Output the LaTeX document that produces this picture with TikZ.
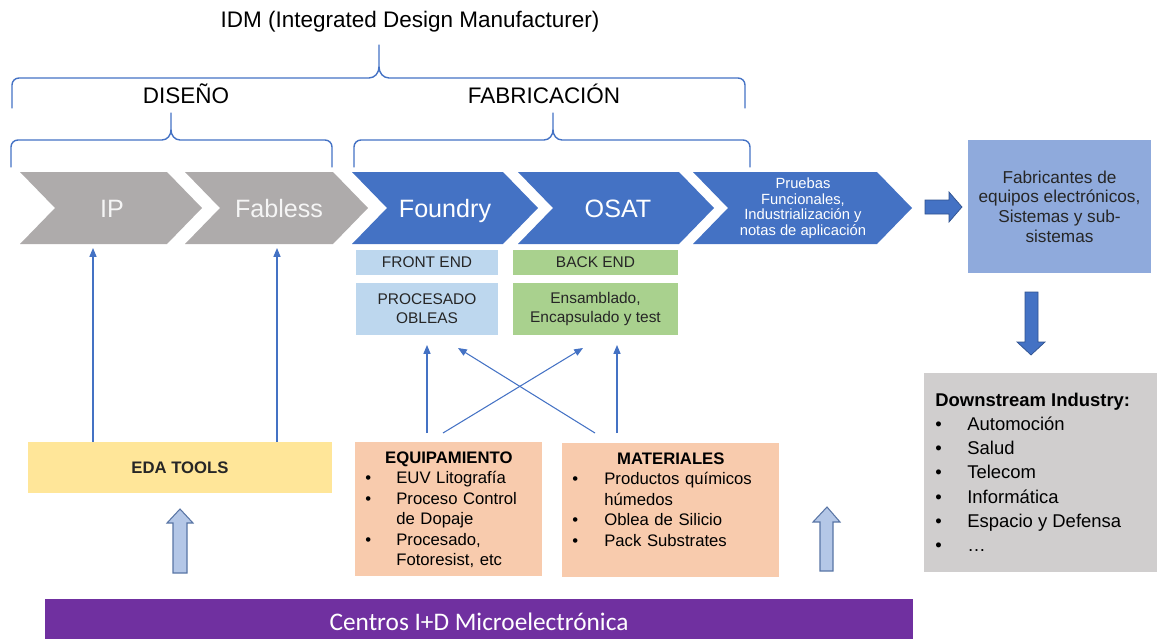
\documentclass[tikz,border=0pt]{standalone}
\usepackage{fontspec}
\setmainfont{Liberation Sans}
\newfontfamily\calibri{Carlito}
\usetikzlibrary{arrows.meta}

\definecolor{chevgray}{HTML}{AEABAB}
\definecolor{chevblue}{HTML}{4472C4}
\definecolor{arrowdark}{HTML}{2F528F}
\definecolor{frontblue}{HTML}{BDD7EE}
\definecolor{backgreen}{HTML}{A9D18E}
\definecolor{edayellow}{HTML}{FFE699}
\definecolor{peach}{HTML}{F8CBAD}
\definecolor{oembox}{HTML}{8FAADC}
\definecolor{downgray}{HTML}{D0CECE}
\definecolor{rdpurple}{HTML}{7030A0}
\definecolor{hollowfill}{HTML}{B4C7E7}

\newcommand{\fsz}[2]{\fontsize{#1}{#2}\selectfont}
\newcommand{\bul}[1]{\makebox[#1][l]{•}}
\newcommand{\chevshape}[3]{\fill[#3] (#1,172) -- (#2,172) -- ++(35,36) -- (#2,244) -- (#1,244) -- ++(35,-36) -- cycle;}

\begin{document}
\begin{tikzpicture}[x=0.02cm, y=-0.02cm,
	brace/.style={draw=chevblue, line width=0.8pt, line join=round, line cap=round},
	link/.style={draw=chevblue, line width=0.6pt, -{Triangle[length=5pt,width=4pt]}},
	cell/.style={inner sep=0pt, align=center, text=black!85},
	chevtext/.style={anchor=base, text=white, font=\fsz{14.3}{17}},
	blockarrow/.style={fill=chevblue, draw=arrowdark, line width=0.4pt},
	hollow/.style={fill=hollowfill, draw=arrowdark!80, line width=0.6pt}]
	\useasboundingbox (0,0) rectangle (1157,639);

	\node[anchor=base, font=\fsz{12.8}{15}] (idm) at (410,28) {IDM (Integrated Design Manufacturer)};
	\draw[brace] (12,108) -- (12,85) to[out=90,in=180] (19,78) -- (369,78) to[out=0,in=-90] (379,67) -- (379,45);
	\draw[brace] (745,108) -- (745,85) to[out=90,in=0] (738,78) -- (389,78) to[out=180,in=-90] (379,67);

	\node[anchor=base, font=\fsz{12.8}{15}] (diseno) at (186,103) {DISEÑO};
	\node[anchor=base, font=\fsz{12.8}{15}] (fabric) at (544,103) {FABRICACIÓN};
	\draw[brace] (11,167) -- (11,147) to[out=90,in=180] (18,140) -- (162,140) to[out=0,in=-90] (171,130) -- (171,113);
	\draw[brace] (332,167) -- (332,147) to[out=90,in=0] (325,140) -- (180,140) to[out=180,in=-90] (171,130);
	\draw[brace] (354,167) -- (354,147) to[out=90,in=180] (361,140) -- (544,140) to[out=0,in=-90] (553,130) -- (553,113);
	\draw[brace] (750,167) -- (750,147) to[out=90,in=0] (743,140) -- (562,140) to[out=180,in=-90] (553,130);

	\chevshape{20}{167}{chevgray}
	\chevshape{185}{333}{chevgray}
	\chevshape{352}{503}{chevblue}
	\chevshape{518}{679}{chevblue}
	\chevshape{693}{877}{chevblue}
	\node[chevtext, text=white!96!black] (ip) at (112,217) {IP};
	\node[chevtext, text=white!96!black] (fabless) at (279,217) {Fabless};
	\node[chevtext] (foundry) at (445,217) {Foundry};
	\node[chevtext] (osat) at (618,217) {OSAT};
	\node[align=center, text=white, font=\fsz{8.4}{8.9}] (pruebas) at (803,208) {Pruebas\\Funcionales,\\Industrialización y\\notas de aplicación};

	\filldraw[blockarrow] (925,200) -- (949,200) -- (949,192) -- (962,207) -- (949,222) -- (949,214) -- (925,214) -- cycle;
	\node[cell, fill=oembox, minimum width=3.66cm, minimum height=2.66cm, font=\fsz{9.8}{11.2}] (oem) at (1059.5,206.5) {Fabricantes de\\equipos electrónicos,\\Sistemas y sub-\\sistemas};
	\filldraw[blockarrow] (1025,292) -- (1038,292) -- (1038,342) -- (1045,342) -- (1031,355) -- (1017,342) -- (1025,342) -- cycle;
	\node[fill=downgray, minimum width=4.72cm, minimum height=3.98cm] (down) at (1042,472.5) {};
	\node[anchor=north west, inner sep=0pt, align=left, font=\fsz{10.5}{13.7}] (downlist) at (935,393) {{\bfseries Downstream Industry:}\\
		\bul{0.64cm}Automoción\\ \bul{0.64cm}Salud\\ \bul{0.64cm}Telecom\\ \bul{0.64cm}Informática\\
		\bul{0.64cm}Espacio y Defensa\\ \bul{0.64cm}…};

	\node[cell, fill=frontblue, minimum width=2.84cm, minimum height=0.5cm, font=\fsz{8.8}{10.8}] (frontend) at (427,262.5) {FRONT END};
	\node[cell, fill=frontblue, minimum width=2.84cm, minimum height=1.04cm, font=\fsz{8.8}{10.8}] (proc) at (427,309) {PROCESADO\\OBLEAS};
	\node[cell, fill=backgreen, minimum width=3.3cm, minimum height=0.5cm, font=\fsz{8.8}{10.8}] (backend) at (595.5,262.5) {BACK END};
	\node[cell, fill=backgreen, minimum width=3.3cm, minimum height=1.04cm, font=\fsz{8.8}{10.8}] (ensam) at (595.5,309) {Ensamblado,\\Encapsulado y test};

	\node[cell, fill=edayellow, minimum width=6.08cm, minimum height=1.02cm, font=\bfseries\fsz{9.5}{11}] (eda) at (180,467.5) {EDA TOOLS};
	\coordinate (ipfoot) at (93,248);
	\coordinate (fabfoot) at (277,248);
	\draw[link] (ipfoot |- eda.north) -- (ipfoot);
	\draw[link] (fabfoot |- eda.north) -- (fabfoot);

	\node[fill=peach, minimum width=3.74cm, minimum height=2.68cm] (equip) at (448.5,509) {};
	\node[anchor=north west, inner sep=0pt, text width=3.34cm, align=left, font=\fsz{9.5}{11.7}] (equiplist) at (365,451) {\makebox[3.34cm]{\bfseries EQUIPAMIENTO}\\
		\bul{0.62cm}EUV Litografía\\ \bul{0.62cm}Proceso Control\\ \hspace*{0.62cm}de Dopaje\\
		\bul{0.62cm}Procesado,\\ \hspace*{0.62cm}Fotoresist, etc};
	\node[fill=peach, minimum width=4.34cm, minimum height=2.68cm] (mat) at (670.5,510) {};
	\node[anchor=north west, inner sep=0pt, text width=3.94cm, align=left, font=\fsz{9.5}{11.7}] (matlist) at (572,452) {\makebox[3.94cm]{\bfseries MATERIALES}\\
		\bul{0.64cm}Productos químicos\\ \hspace*{0.64cm}húmedos\\ \bul{0.64cm}Oblea de Silicio\\
		\bul{0.64cm}Pack Substrates};

	\coordinate (eq1) at (427,433);
	\coordinate (eq2) at (443,433);
	\coordinate (ma1) at (595,433);
	\coordinate (ma2) at (617,433);
	\coordinate (fe1) at (427,345);
	\coordinate (fe2) at (458,348);
	\coordinate (be1) at (583,348);
	\coordinate (be2) at (617,345);
	\draw[link] (eq1) -- (fe1);
	\draw[link] (eq2) -- (be1);
	\draw[link] (ma1) -- (fe2);
	\draw[link] (ma2) -- (be2);

	\filldraw[hollow] (173,573) -- (173,523) -- (167,523) -- (180,509) -- (193,523) -- (187,523) -- (187,573) -- cycle;
	\filldraw[hollow] (820,571) -- (820,522) -- (813,522) -- (827,507) -- (840,522) -- (833,522) -- (833,571) -- cycle;

	\node[fill=rdpurple, minimum width=17.36cm, minimum height=0.9cm, text=white, font=\calibri\fsz{14.4}{17}] (rd) at (479,621.5) {Centros I+D Microelectrónica};
\end{tikzpicture}
\end{document}
